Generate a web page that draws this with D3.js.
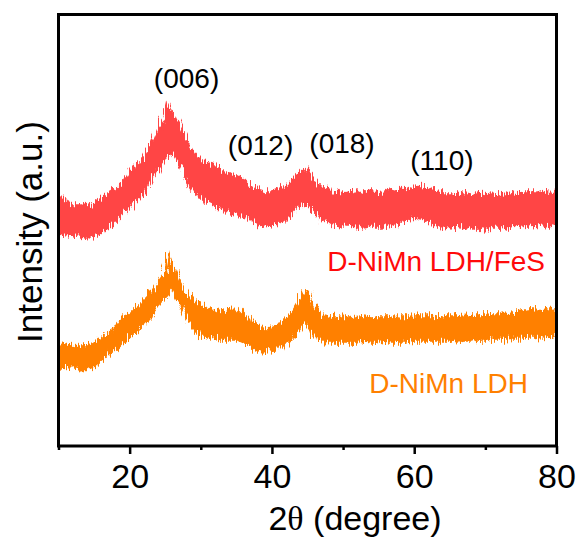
<!DOCTYPE html>
<html>
<head>
<meta charset="utf-8">
<script src="https://cdn.jsdelivr.net/npm/d3@7/dist/d3.min.js"></script>
<style>
  html, body { margin: 0; padding: 0; background: #fff; }
  svg text { font-family: "Liberation Sans", Arial, sans-serif; }
</style>
</head>
<body>
<svg id="chart" width="582" height="542"></svg>
<script>
// 2θ sample positions (degree)
const twoTheta = [10,11,12,13,14,15,16,17,18,19,20,21,22,23,24,25,25.5,26,27,28,29,30,31,32,33,34,35,36,37,38,39,40,41,42,43,44,44.5,45,46,47,48,49,50,51,52,53,54,55,56,57,58,59,60,61,62,63,64,65,66,67,68,69,70,71,72,73,74,75,76,77,78,79,80];

// D-NiMn LDH/FeS: upper and lower edge of the noisy trace (a.u., offset)
const fesUpper = [249,246,241,241,240,243,248,254,258,264,276,281,288,301,318,328,344,336,321,306,294,286,283,281,274,272,270,268,261,256,254,254,256,261,268,276,278,274,266,258,254,252,254,253,254,253,254,253,254,255,256,259,260,259,257,254,253,253,252,253,252,253,252,253,252,253,254,253,254,254,253,254,253];
const fesLower = [213,210,211,209,208,209,214,218,224,231,240,246,253,266,276,286,292,294,281,266,254,248,244,241,236,234,232,230,226,221,218,220,221,226,234,241,242,241,234,226,224,221,220,220,221,219,220,220,221,222,224,226,228,227,225,220,218,219,218,219,218,218,217,218,218,219,220,219,220,221,220,221,222];

// D-NiMn LDH: upper and lower edge of the noisy trace (a.u., offset)
const ldhUpper = [101,103,101,99,99,103,108,113,119,128,134,140,147,154,164,174,193,184,166,154,146,141,139,136,134,136,138,131,126,120,118,119,122,128,136,148,156,154,140,130,128,129,129,128,129,129,128,129,129,128,129,129,130,130,130,129,130,130,130,131,130,131,131,133,133,132,133,134,136,136,135,137,136];
const ldhLower = [78,79,78,76,78,81,86,91,96,103,109,115,121,128,139,148,152,156,141,128,116,111,109,108,106,106,106,103,100,96,94,95,98,102,108,118,123,121,110,105,104,104,104,104,104,105,104,104,105,104,104,104,105,105,105,105,105,105,104,105,105,106,106,107,107,107,108,108,109,109,108,110,109];

const xTicks = [20, 40, 60, 80];
const xMinorTicks = [10, 30, 50, 70];

const series = [
  { name: "D-NiMn LDH/FeS", upper: fesUpper, lower: fesLower, color: "#ff4545", labelColor: "#ff0a0a" },
  { name: "D-NiMn LDH", upper: ldhUpper, lower: ldhLower, color: "#ff8000", labelColor: "#ff8000" }
];

const peakLabels = [
  { text: "(006)", x: 28.0, y: 358 },
  { text: "(012)", x: 38.4, y: 291 },
  { text: "(018)", x: 49.85, y: 293 },
  { text: "(110)", x: 63.9, y: 276 }
];

const svg = d3.select("#chart");
const margin = { left: 58.5, right: 582 - 556.5, top: 14.5, bottom: 542 - 446 };
const W = 582, H = 542;

const x = d3.scaleLinear().domain([10, 80]).range([margin.left, W - margin.right]);
const y = d3.scaleLinear().domain([0, 431.5]).range([H - margin.bottom, margin.top]);

// noise texture filter
const defs = svg.append("defs");
const f = defs.append("filter").attr("id", "rough").attr("x", "-5%").attr("y", "-30%").attr("width", "110%").attr("height", "160%");
f.append("feTurbulence").attr("type", "fractalNoise").attr("baseFrequency", "0.7 0.05").attr("numOctaves", 2).attr("seed", 3).attr("result", "noise");
f.append("feDisplacementMap").attr("in", "SourceGraphic").attr("in2", "noise").attr("scale", 16).attr("xChannelSelector", "G").attr("yChannelSelector", "R");

const clip = defs.append("clipPath").attr("id", "plotclip");
clip.append("rect").attr("x", margin.left).attr("y", margin.top)
  .attr("width", W - margin.left - margin.right).attr("height", H - margin.top - margin.bottom);

const area = d3.area()
  .x((d, i) => x(twoTheta[i]))
  .y0(d => y(d[1]))
  .y1(d => y(d[0]));

const g = svg.append("g").attr("clip-path", "url(#plotclip)");
series.forEach(s => {
  const pts = s.upper.map((u, i) => [u, s.lower[i]]);
  g.append("path")
    .datum(pts)
    .attr("d", area)
    .attr("fill", s.color)
    .attr("stroke", s.color)
    .attr("stroke-width", 1.5)
    .attr("filter", "url(#rough)");
});

// frame
svg.append("rect")
  .attr("x", margin.left).attr("y", margin.top)
  .attr("width", W - margin.left - margin.right)
  .attr("height", H - margin.top - margin.bottom)
  .attr("fill", "none").attr("stroke", "#000").attr("stroke-width", 3);

// x axis
const xAxis = d3.axisBottom(x).tickValues(xTicks).tickSize(8).tickSizeOuter(0).tickPadding(10);
const ax = svg.append("g").attr("transform", `translate(0,${H - margin.bottom})`).call(xAxis);
ax.select(".domain").remove();
ax.selectAll(".tick line").attr("stroke", "#000").attr("stroke-width", 2.5);
ax.selectAll(".tick text").attr("font-size", 34).attr("fill", "#000")
  .attr("font-family", "Liberation Sans, Arial, sans-serif");
const minor = d3.axisBottom(x).tickValues(xMinorTicks).tickSize(4).tickFormat("");
const mx = svg.append("g").attr("transform", `translate(0,${H - margin.bottom})`).call(minor);
mx.select(".domain").remove();
mx.selectAll(".tick line").attr("stroke", "#000").attr("stroke-width", 2.5);

// axis titles
const xt = svg.append("text")
  .attr("x", 355).attr("y", 530)
  .attr("text-anchor", "middle").attr("font-size", 34).attr("fill", "#000");
xt.append("tspan").text("2");
xt.append("tspan").attr("font-family", "Liberation Serif, Times New Roman, serif").text("θ");
xt.append("tspan").text(" (degree)");

svg.append("text")
  .attr("transform", "translate(42,232) rotate(-90)")
  .attr("text-anchor", "middle").attr("font-size", 35).attr("fill", "#000")
  .text("Intensity (a.u.)");

// peak labels
svg.selectAll("text.peak").data(peakLabels).enter().append("text")
  .attr("class", "peak")
  .attr("x", d => x(d.x)).attr("y", d => y(d.y))
  .attr("text-anchor", "middle").attr("font-size", 28).attr("fill", "#000")
  .text(d => d.text);

// series labels
svg.append("text").attr("x", 545).attr("y", 271).attr("text-anchor", "end")
  .attr("font-size", 28).attr("fill", series[0].labelColor).text(series[0].name);
svg.append("text").attr("x", 528).attr("y", 393).attr("text-anchor", "end")
  .attr("font-size", 28).attr("fill", series[1].labelColor).text(series[1].name);
</script>
</body>
</html>
